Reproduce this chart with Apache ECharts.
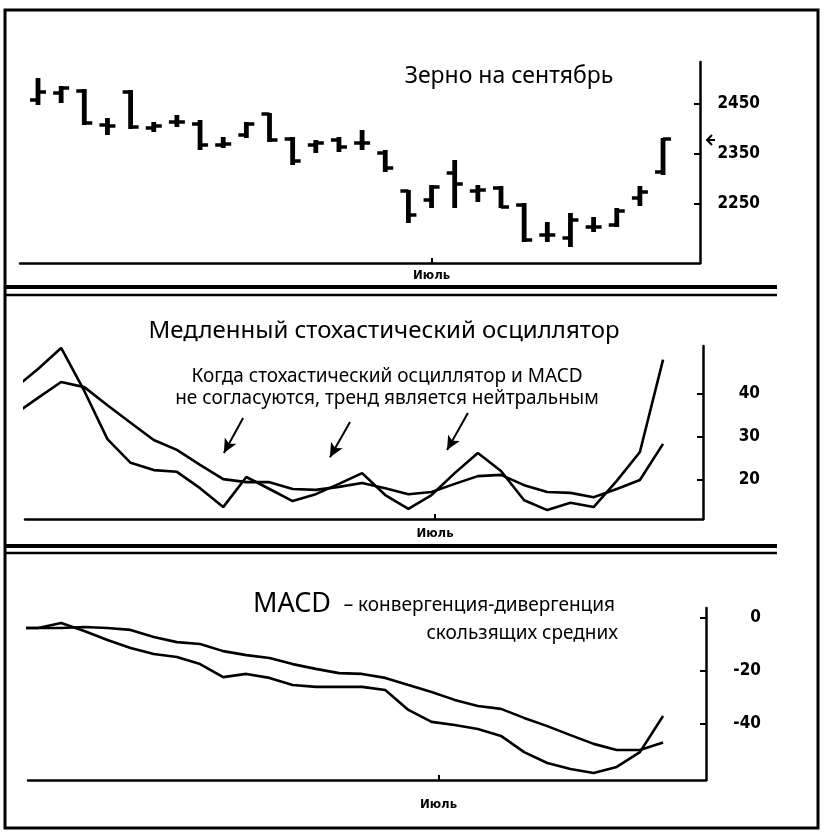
<!DOCTYPE html>
<html>
<head>
<meta charset="utf-8">
<script src="https://cdn.jsdelivr.net/npm/echarts@6.0.0/dist/echarts.min.js"></script>
<style>
  html, body { margin: 0; padding: 0; background: #fff; }
  #chart { width: 824px; height: 835px; }
</style>
</head>
<body>
<div id="chart"></div>
<script>
// --- data ---
// price bars (one per trading day, day 0..27)
const barOpen  = [2458, 2472, 2476, 2408, 2474, 2402, 2414, 2410, 2368, 2388, 2430, 2380, 2368, 2378, 2372, 2352, 2276, 2258, 2312, 2276, 2282, 2248, 2188, 2182, 2204, 2208, 2262, 2314];
const barClose = [2474, 2482, 2412, 2406, 2404, 2406, 2414, 2368, 2370, 2410, 2378, 2336, 2372, 2364, 2372, 2322, 2228, 2284, 2290, 2278, 2244, 2178, 2188, 2218, 2204, 2236, 2274, 2380];
const barLow   = [2448, 2452, 2408, 2388, 2400, 2394, 2404, 2358, 2362, 2382, 2374, 2328, 2352, 2354, 2358, 2314, 2212, 2242, 2242, 2254, 2242, 2174, 2174, 2164, 2194, 2204, 2246, 2308];
const barHigh  = [2502, 2486, 2480, 2422, 2478, 2414, 2428, 2418, 2384, 2414, 2432, 2384, 2378, 2384, 2398, 2358, 2278, 2288, 2338, 2288, 2286, 2252, 2214, 2232, 2224, 2242, 2286, 2382];
const priceTicks = [2250, 2350, 2450];

// slow stochastic (day -1..27)
const stochFast = [41.4, 45.8, 50.7, 40.7, 29.5, 24.0, 22.3, 21.9, 18.1, 13.7, 20.7, 17.9, 15.1, 16.7, 19.1, 21.6, 16.5, 13.3, 16.5, 21.6, 26.3, 22.1, 15.3, 13.0, 14.7, 13.7, 19.8, 26.5, 48.0];
const stochSlow = [35.3, 39.1, 42.8, 41.6, 37.4, 33.3, 29.3, 27.0, 23.5, 20.2, 19.5, 19.5, 17.9, 17.7, 18.4, 19.3, 18.1, 16.7, 17.2, 19.1, 20.9, 21.2, 18.8, 17.2, 17.0, 16.0, 17.9, 20.0, 28.4];
const stochTicks = [20, 30, 40];
// arrows: [day, value] start -> end
const arrowFrom = [[8.86, 34.4], [13.48, 33.5], [18.57, 35.6]];
const arrowTo   = [[8.03, 26.3], [12.61, 25.3], [17.67, 27.0]];

// MACD (day -1..27)
const macdLine   = [-3.8, -3.8, -1.9, -4.9, -8.3, -11.3, -13.6, -14.7, -17.4, -22.3, -21.1, -22.6, -25.3, -26.0, -26.0, -26.0, -27.2, -34.7, -39.2, -40.4, -41.9, -44.5, -50.6, -54.7, -57.0, -58.5, -56.2, -50.6, -37.0];
const macdSignal = [-3.8, -3.8, -3.8, -3.4, -3.8, -4.5, -7.2, -9.1, -9.8, -12.5, -14.0, -15.1, -17.4, -19.2, -20.8, -21.1, -22.6, -25.3, -27.9, -30.9, -33.2, -34.3, -37.7, -40.8, -44.2, -47.5, -49.8, -49.8, -47.0];
const macdTicks = [-40, -20, 0];

const monthName = 'Июль';
const monthDay = [17.0, 17.15, 17.3];

// --- layout ---
const FIRST_BAR_X = 38;
const PX_PER_DAY = 23.15;
const panels = [
  { left: 20, axisX: 700, top: 62,  bottom: 263, yMin: 2132,  yMax: 2534, labelMargin: 60, xLabelMargin: 6 },
  { left: 25, axisX: 703, top: 346, bottom: 519, yMin: 10.93, yMax: 51.16, labelMargin: 57, xLabelMargin: 8 },
  { left: 28, axisX: 706, top: 608, bottom: 780, yMin: -61.13, yMax: 3.77, labelMargin: 55, xLabelMargin: 18 }
];
const tickLists = [priceTicks, stochTicks, macdTicks];

const numFont = "'DejaVu Sans Condensed', 'Liberation Sans Narrow', sans-serif";
const textFont = "'Noto Sans', 'Open Sans', sans-serif";

const withDays = (arr) => arr.map((v, i) => [i - 1, v]);

const chart = echarts.init(document.getElementById('chart'));

const grids = panels.map((p) => ({
  left: p.left, top: p.top, width: p.axisX - p.left, height: p.bottom - p.top
}));

const xAxes = panels.map((p, i) => ({
  type: 'value',
  gridIndex: i,
  min: (p.left - FIRST_BAR_X) / PX_PER_DAY,
  max: (p.axisX - FIRST_BAR_X) / PX_PER_DAY,
  splitLine: { show: false },
  axisLine: { onZero: false, lineStyle: { color: '#000', width: 2.5 } },
  axisTick: { customValues: [monthDay[i]], inside: true, length: 5, lineStyle: { color: '#000', width: 2 } },
  axisLabel: {
    customValues: [monthDay[i]],
    formatter: () => monthName,
    margin: p.xLabelMargin,
    color: '#000', fontSize: 13, fontWeight: 'bold', fontFamily: numFont
  }
}));

const yAxes = panels.map((p, i) => ({
  type: 'value',
  gridIndex: i,
  position: 'right',
  min: p.yMin,
  max: p.yMax,
  splitLine: { show: false },
  axisLine: { show: true, onZero: false, lineStyle: { color: '#000', width: 2.5 } },
  axisTick: { customValues: tickLists[i], inside: true, length: 6, lineStyle: { color: '#000', width: 2 } },
  axisLabel: {
    customValues: tickLists[i],
    formatter: (v) => String(v),
    margin: p.labelMargin,
    align: 'right',
    color: '#000', fontSize: 17, fontWeight: 'bold', fontFamily: numFont
  }
}));

const ohlc = barOpen.map((o, i) => [i, o, barClose[i], barLow[i], barHigh[i]]);

const lineStyle = { color: '#000', width: 2.6 };
const lineSeries = (data, idx) => ({
  type: 'line', xAxisIndex: idx, yAxisIndex: idx,
  data: withDays(data), showSymbol: false, symbol: 'none',
  lineStyle, clip: true, silent: true
});

chart.setOption({
  animation: false,
  backgroundColor: '#fff',
  grid: grids,
  xAxis: xAxes,
  yAxis: yAxes,
  series: [
    {
      type: 'custom',
      xAxisIndex: 0, yAxisIndex: 0,
      data: ohlc,
      renderItem: (params, api) => {
        const x = api.value(0);
        const pO = api.coord([x, api.value(1)]);
        const pC = api.coord([x, api.value(2)]);
        const pL = api.coord([x, api.value(3)]);
        const pH = api.coord([x, api.value(4)]);
        const s = { stroke: '#000', lineWidth: 3.5 };
        return {
          type: 'group',
          children: [
            { type: 'line', shape: { x1: pH[0], y1: pH[1], x2: pL[0], y2: pL[1] }, style: { stroke: '#000', lineWidth: 4.8 } },
            { type: 'line', shape: { x1: pO[0] - 8, y1: pO[1], x2: pO[0], y2: pO[1] }, style: s },
            { type: 'line', shape: { x1: pC[0], y1: pC[1], x2: pC[0] + 8, y2: pC[1] }, style: s }
          ]
        };
      }
    },
    Object.assign(lineSeries(stochFast, 1), {
      markLine: {
        silent: true,
        symbol: ['none', 'arrow'],
        symbolSize: [10, 14],
        label: { show: false },
        lineStyle: { color: '#000', width: 2, type: 'solid' },
        data: arrowFrom.map((a, i) => [{ coord: a }, { coord: arrowTo[i] }])
      }
    }),
    lineSeries(stochSlow, 1),
    lineSeries(macdLine, 2),
    lineSeries(macdSignal, 2)
  ],
  graphic: [
    { type: 'rect', shape: { x: 5, y: 10, width: 813, height: 818 }, style: { fill: 'none', stroke: '#000', lineWidth: 3 } },
    { type: 'line', shape: { x1: 5, y1: 287, x2: 777, y2: 287 }, style: { stroke: '#000', lineWidth: 4 } },
    { type: 'line', shape: { x1: 5, y1: 295, x2: 777, y2: 295 }, style: { stroke: '#000', lineWidth: 2.5 } },
    { type: 'line', shape: { x1: 5, y1: 546, x2: 777, y2: 546 }, style: { stroke: '#000', lineWidth: 4 } },
    { type: 'line', shape: { x1: 5, y1: 553, x2: 777, y2: 553 }, style: { stroke: '#000', lineWidth: 2.5 } },
    // last-price pointer next to the price axis
    { type: 'polyline', shape: { points: [[712, 135], [707, 140], [712, 145]] }, style: { stroke: '#000', lineWidth: 2, fill: 'none' } },
    { type: 'line', shape: { x1: 707, y1: 140, x2: 715, y2: 140 }, style: { stroke: '#000', lineWidth: 2 } },
    { type: 'text', x: 509, y: 76, style: { text: 'Зерно на сентябрь', font: '23px ' + textFont, fill: '#000', align: 'center', verticalAlign: 'middle' } },
    { type: 'text', x: 384, y: 331, style: { text: 'Медленный стохастический осциллятор', font: '24px ' + textFont, fill: '#000', align: 'center', verticalAlign: 'middle' } },
    { type: 'text', x: 387, y: 377, style: { text: 'Когда стохастический осциллятор и MACD', font: '19px ' + textFont, fill: '#000', align: 'center', verticalAlign: 'middle' } },
    { type: 'text', x: 387, y: 399, style: { text: 'не согласуются, тренд является нейтральным', font: '19px ' + textFont, fill: '#000', align: 'center', verticalAlign: 'middle' } },
    { type: 'text', x: 253, y: 604, style: { text: 'MACD', font: '27px ' + textFont, fill: '#000', align: 'left', verticalAlign: 'middle' } },
    { type: 'text', x: 615, y: 606, style: { text: '– конвергенция-дивергенция', font: '19px ' + textFont, fill: '#000', align: 'right', verticalAlign: 'middle' } },
    { type: 'text', x: 618, y: 634, style: { text: 'скользящих средних', font: '19px ' + textFont, fill: '#000', align: 'right', verticalAlign: 'middle' } }
  ]
});
</script>
</body>
</html>
